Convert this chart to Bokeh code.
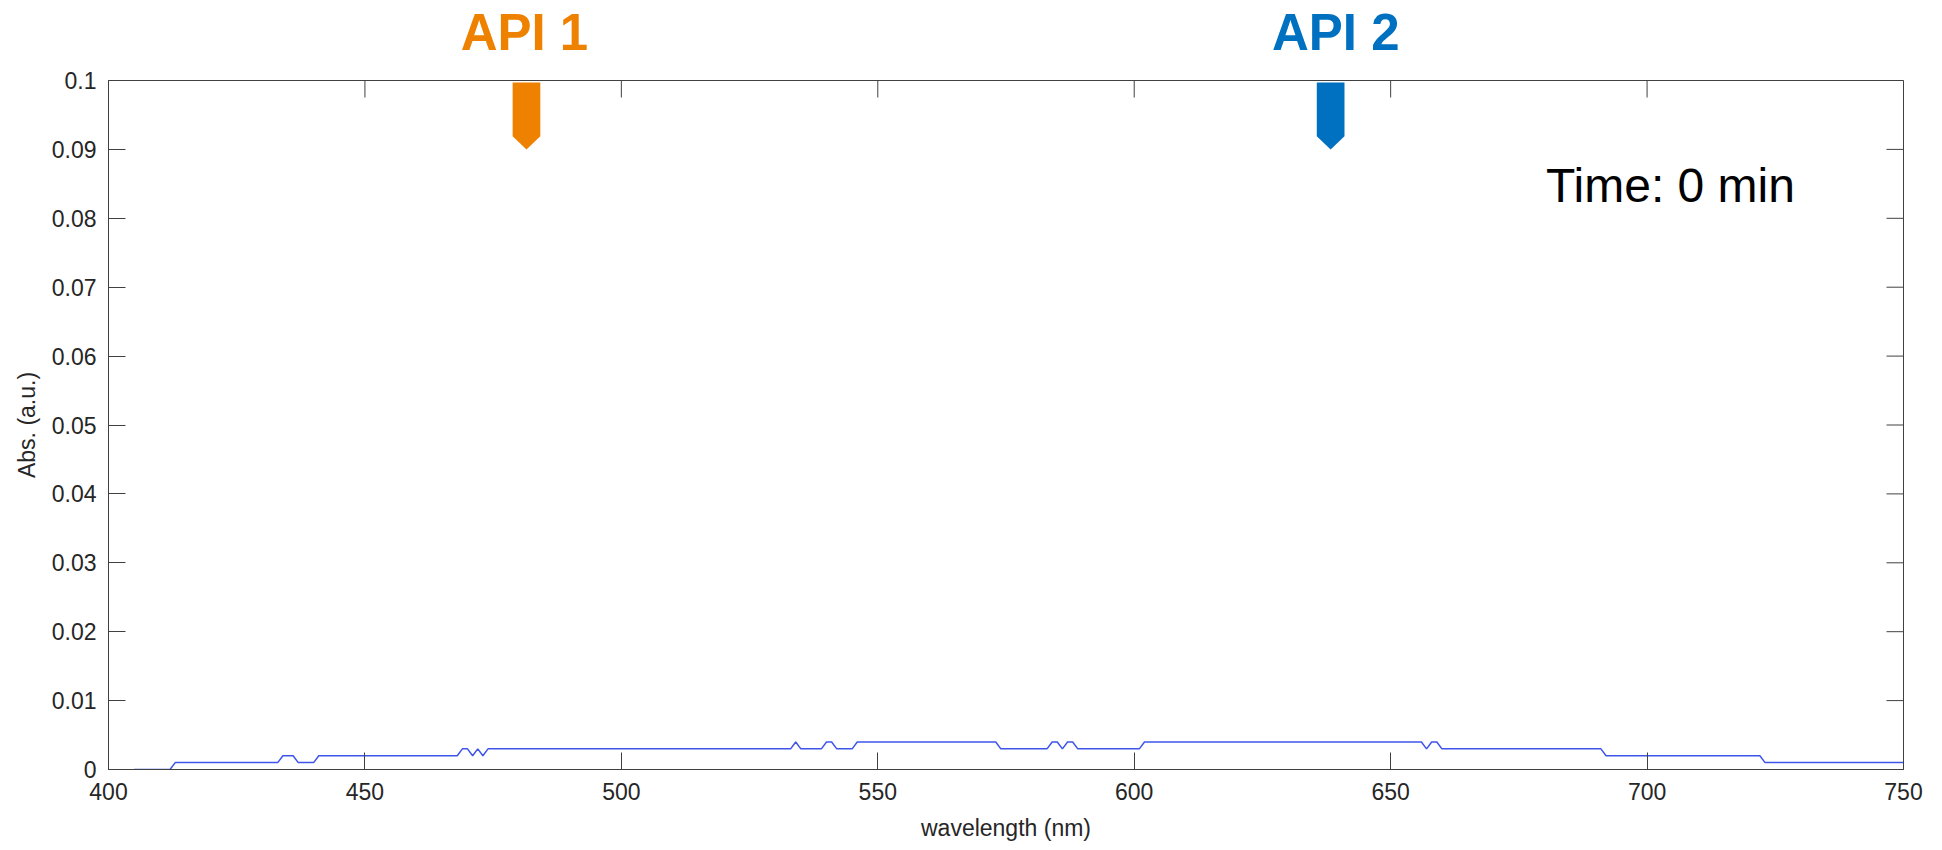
import math
from bokeh.plotting import figure
from bokeh.models import Range1d, LinearAxis, FixedTicker
from bokeh.layouts import column
from bokeh.core.properties import value
from bokeh.embed import file_html
from bokeh.resources import INLINE

# ---- data ----
wavelength = [405, 412, 413, 433, 434, 436, 437, 440, 441, 468,
              469, 470, 471, 472, 473, 474, 533, 534, 535, 539,
              540, 541, 542, 545, 546, 573, 574, 583, 584, 585,
              586, 587, 588, 589, 601, 602, 656, 657, 658, 659,
              660, 691, 692, 722, 723, 750]
absorbance = [0, 0, .001, .001, .002, .002, .001, .001, .002, .002,
              .003, .003, .002, .003, .002, .003, .003, .004, .003, .003,
              .004, .004, .003, .003, .004, .004, .003, .003, .004, .004,
              .003, .004, .004, .003, .003, .004, .004, .003, .004, .004,
              .003, .003, .002, .002, .001, .001]

api_labels = ["API 1", "API 2"]
api_wavelength = [481.5, 638.3]
api_label_x = [481.1, 639.3]
api_colors = ["#ee8200", "#0070c0"]

time_text = ["Time: 0 min"]
time_pos_x = [680.3]
time_pos_y = [0.0848]

x_ticks = [400, 450, 500, 550, 600, 650, 700, 750]
x_tick_labels = ["400", "450", "500", "550", "600", "650", "700", "750"]
y_ticks = [0, 0.01, 0.02, 0.03, 0.04, 0.05, 0.06, 0.07, 0.08, 0.09, 0.1]
y_tick_labels = ["0", "0.01", "0.02", "0.03", "0.04", "0.05", "0.06",
                 "0.07", "0.08", "0.09", "0.1"]

X_MIN, X_MAX = 400, 750
Y_MIN, Y_MAX = 0, 0.1

# ---- styling ----
FONT = "Liberation Sans"
AX_COL = "#404040"
TXT_COL = "#262626"
TICK_FS = "23px"
TICK_LEN = 17
LEFT_B, RIGHT_B = 108, 31
TOP_H = 62          # header strip height
MAIN_TOP_B = 18     # room for the "0.1" label above the frame
LABEL_BASE = 30     # baseline height of the API labels inside the strip

xr = Range1d(X_MIN, X_MAX)

# ---- header strip with the API labels ----
top = figure(frame_width=1795, frame_height=TOP_H,
             min_border_left=LEFT_B, min_border_right=RIGHT_B,
             min_border_top=0, min_border_bottom=0,
             x_range=xr, y_range=Range1d(0, TOP_H),
             output_backend="svg", toolbar_location=None,
             x_axis_location=None, y_axis_location=None)
top.grid.visible = False
top.outline_line_color = None
top.border_fill_color = "white"
top.text(x=api_label_x, y=[LABEL_BASE] * len(api_label_x),
         text=api_labels, text_color=api_colors,
         text_align="center", text_baseline="alphabetic",
         text_font=value(FONT), text_font_size="51px",
         text_font_style="bold")

# ---- main plot ----
p = figure(frame_width=1795, frame_height=689,
           min_border_left=LEFT_B, min_border_right=RIGHT_B,
           min_border_top=MAIN_TOP_B, min_border_bottom=77,
           x_range=xr, y_range=Range1d(Y_MIN, Y_MAX),
           output_backend="svg", toolbar_location=None,
           x_axis_location=None, y_axis_location=None)
p.grid.visible = False
p.outline_line_color = AX_COL
p.outline_line_width = 1
p.background_fill_color = "white"
p.border_fill_color = "white"


def style_axis(ax, ticks, labels):
    ax.ticker = FixedTicker(ticks=ticks)
    ax.major_label_overrides = {t: l for t, l in zip(ticks, labels)}
    ax.axis_line_color = AX_COL
    ax.axis_line_width = 1
    ax.major_tick_line_color = AX_COL
    ax.major_tick_in = TICK_LEN
    ax.major_tick_out = 0
    ax.minor_tick_line_color = None
    ax.major_label_text_font = FONT
    ax.major_label_text_font_size = TICK_FS
    ax.major_label_text_color = TXT_COL
    ax.axis_label_text_font = FONT
    ax.axis_label_text_font_size = TICK_FS
    ax.axis_label_text_font_style = "normal"
    ax.axis_label_text_color = TXT_COL


xb = LinearAxis(axis_label="wavelength (nm)")
style_axis(xb, x_ticks, x_tick_labels)
xb.major_label_standoff = 13
xb.axis_label_standoff = 12
p.add_layout(xb, "below")

yl = LinearAxis(axis_label="Abs. (a.u.)")
style_axis(yl, y_ticks, y_tick_labels)
yl.major_label_standoff = 12
yl.axis_label_standoff = 9
p.add_layout(yl, "left")

# mirrored ticks on the top and right edges
p.ray(x=x_ticks, y=[Y_MAX] * len(x_ticks), length=TICK_LEN,
      length_units="screen", angle=-math.pi / 2,
      line_color=AX_COL, line_width=1)
p.ray(x=[X_MAX] * len(y_ticks), y=y_ticks, length=TICK_LEN,
      length_units="screen", angle=math.pi,
      line_color=AX_COL, line_width=1)

# spectrum
p.line(wavelength, absorbance, line_color="#3f55ea", line_width=1.5)

# API markers (pentagon arrows hanging from the top axis)
half_w = 2.7
a_top, a_shoulder, a_tip = 0.0997, 0.0919, 0.0900
xs, ys = [], []
for w in api_wavelength:
    xs.append([w - half_w, w + half_w, w + half_w, w, w - half_w])
    ys.append([a_top, a_top, a_shoulder, a_tip, a_shoulder])
p.patches(xs, ys, fill_color=api_colors, line_color=None)

p.text(x=time_pos_x, y=time_pos_y, text=time_text,
       text_align="left", text_baseline="alphabetic",
       text_font=value(FONT), text_font_size="48px", text_color="black")

layout = column(top, p, spacing=0)
open("out.html", "w").write(file_html(layout, INLINE))
